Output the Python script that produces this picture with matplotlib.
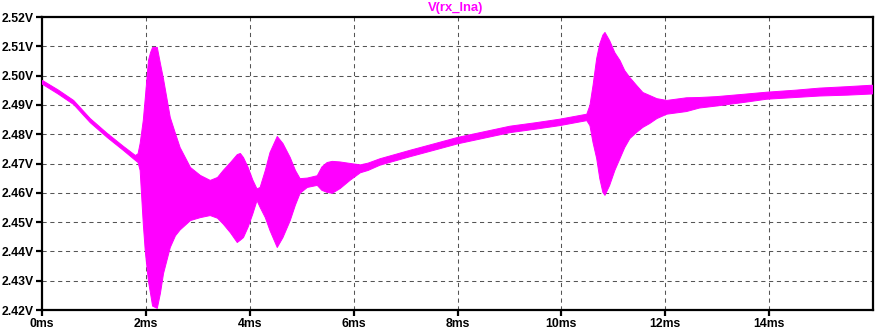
import matplotlib
matplotlib.use("Agg")
import matplotlib.pyplot as plt
import numpy as np

# time (ms) and envelope of V(rx_lna) (V)
t_ms = [0, 0.3, 0.6, 0.92, 1.25, 1.56, 1.79, 1.84, 1.88, 1.94, 1.98, 2.04, 2.08, 2.12,
        2.21, 2.27, 2.33, 2.46, 2.56, 2.65, 2.85, 3.04, 3.23, 3.37, 3.48, 3.62, 3.75,
        3.81, 3.87, 3.96, 4.05, 4.13, 4.19, 4.29, 4.38, 4.52, 4.63, 4.77, 4.87, 4.96,
        5.10, 5.29, 5.38, 5.48, 5.58, 5.73, 5.92, 6.12, 6.27, 6.5, 7.08, 7.5, 8.0, 8.5,
        9.0, 9.5, 9.96, 10.48, 10.54, 10.6, 10.67, 10.73, 10.79, 10.83, 10.92, 11.02,
        11.12, 11.21, 11.31, 11.44, 11.56, 11.69, 11.83, 12.02, 12.4, 12.65, 12.98,
        13.5, 13.94, 14.5, 14.96, 15.5, 15.98]
v_upper = [2.4985, 2.4953, 2.4917, 2.4855, 2.4804, 2.4760, 2.4729, 2.4735, 2.4770,
           2.4848, 2.4927, 2.5053, 2.5080, 2.5098, 2.5098, 2.5043, 2.4990, 2.4859,
           2.4804, 2.4756, 2.4688, 2.4661, 2.4644, 2.4654, 2.4678, 2.4705, 2.4732,
           2.4736, 2.4722, 2.4688, 2.4645, 2.4615, 2.4620, 2.4678, 2.4739, 2.4794,
           2.4770, 2.4722, 2.4678, 2.4650, 2.4652, 2.4660, 2.4690, 2.4705, 2.4709,
           2.4707, 2.4702, 2.4697, 2.4703, 2.4718, 2.4747, 2.4767, 2.4791, 2.4810,
           2.4829, 2.4841, 2.4853, 2.4870, 2.4900, 2.4968, 2.5060, 2.5110, 2.5140,
           2.5149, 2.5121, 2.5080, 2.5053, 2.5019, 2.4995, 2.4968, 2.4944, 2.4934,
           2.4923, 2.4917, 2.4926, 2.4927, 2.4930, 2.4938, 2.4945, 2.4952, 2.4959,
           2.4964, 2.4969]
v_lower = [2.4972, 2.4939, 2.4903, 2.4841, 2.4790, 2.4746, 2.4712, 2.4705, 2.4678,
           2.4497, 2.4400, 2.4300, 2.4258, 2.4215, 2.4207, 2.4258, 2.4326, 2.4415,
           2.4455, 2.4475, 2.4507, 2.4517, 2.4524, 2.4515, 2.4495, 2.4465, 2.4432,
           2.4440, 2.4449, 2.4485, 2.4530, 2.4575, 2.4552, 2.4517, 2.4473, 2.4415,
           2.4449, 2.4507, 2.4560, 2.4600, 2.4620, 2.4627, 2.4610, 2.4603, 2.4600,
           2.4616, 2.4644, 2.4670, 2.4678, 2.4696, 2.4725, 2.4745, 2.4769, 2.4788,
           2.4807, 2.4819, 2.4831, 2.4848, 2.4831, 2.4773, 2.4719, 2.4650, 2.4603,
           2.4593, 2.4627, 2.4678, 2.4719, 2.4756, 2.4787, 2.4808, 2.4825, 2.4838,
           2.4855, 2.4870, 2.4879, 2.4891, 2.4898, 2.4910, 2.4921, 2.4927, 2.4932,
           2.4935, 2.4939]

x_ticks = [0, 2, 4, 6, 8, 10, 12, 14]
x_labels = ["0ms", "2ms", "4ms", "6ms", "8ms", "10ms", "12ms", "14ms"]
y_ticks = [2.42, 2.43, 2.44, 2.45, 2.46, 2.47, 2.48, 2.49, 2.50, 2.51, 2.52]
y_labels = ["2.42V", "2.43V", "2.44V", "2.45V", "2.46V", "2.47V", "2.48V",
            "2.49V", "2.50V", "2.51V", "2.52V"]
title = "V(rx_lna)"

W, H = 889, 336
fig = plt.figure(figsize=(W / 100, H / 100), dpi=100)
ax = fig.add_axes([42 / W, (H - 310) / H, (873 - 42) / W, (310 - 17) / H])

ax.fill_between(t_ms, v_lower, v_upper, color="#FF00FF", linewidth=0.7,
                edgecolor="#FF00FF", zorder=3)

ax.set_xlim(0, 16)
ax.set_ylim(2.42, 2.52)
ax.set_xticks(x_ticks)
ax.set_xticklabels(x_labels)
ax.set_yticks(y_ticks)
ax.set_yticklabels(y_labels)

# grid including 16ms
for x in x_ticks[1:]:
    ax.axvline(x, color="#555555", lw=0.75, dashes=(4, 3.5), zorder=1)
for y in y_ticks[1:-1]:
    ax.axhline(y, color="#555555", lw=0.75, dashes=(4, 3.5), zorder=1)

for s in ax.spines.values():
    s.set_linewidth(1.6)
    s.set_color("black")
ax.tick_params(axis="both", direction="out", length=4, width=1.6, color="black",
               pad=2, labelsize=8.8)
for lab in ax.get_xticklabels() + ax.get_yticklabels():
    lab.set_fontfamily("Liberation Sans")
    lab.set_fontweight("bold")
    lab.set_color("black")

fig.text(456 / W, 1 - 8.5 / H, title, color="#FF00FF", fontsize=9.4,
         fontweight="bold", family="Liberation Sans", ha="center", va="center")

fig.savefig("out.png", dpi=100, facecolor="white")
